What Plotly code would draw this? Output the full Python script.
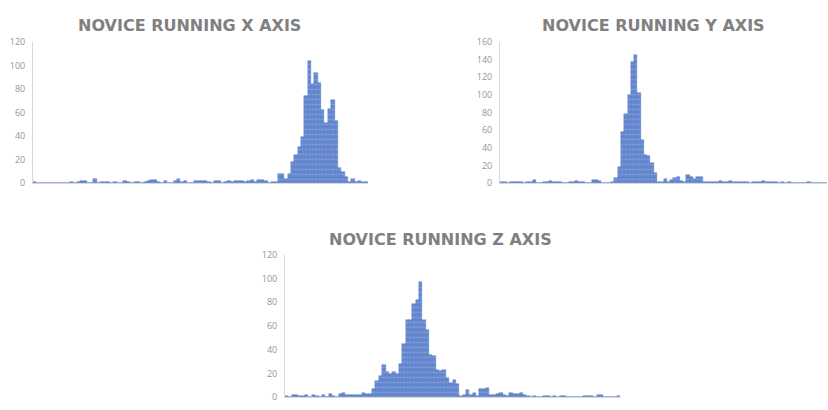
import plotly.graph_objects as go

# Histogram counts (100 bins per chart)
x_axis_counts = [1, 0, 0, 0, 0, 0, 0, 0, 0, 0,
                 0, 1, 0, 1, 2, 2, 0, 0, 4, 0,
                 1, 1, 1, 0, 1, 0, 0, 2, 1, 0,
                 1, 1, 0, 1, 2, 3, 3, 1, 0, 2,
                 0, 0, 2, 4, 1, 2, 0, 0, 2, 2,
                 2, 2, 1, 0, 2, 2, 0, 1, 2, 1,
                 2, 2, 2, 1, 2, 3, 1, 3, 3, 2,
                 0, 1, 1, 8, 8, 4, 8, 18, 24, 31,
                 39, 74, 104, 84, 94, 85, 62, 51, 63, 71,
                 53, 13, 10, 5, 1, 4, 1, 2, 1, 1]

y_axis_counts = [1, 1, 0, 1, 1, 1, 1, 0, 1, 2,
                 4, 0, 0, 2, 1, 3, 1, 2, 1, 0,
                 0, 1, 2, 3, 1, 2, 0, 0, 4, 4,
                 3, 0, 0, 0, 1, 6, 18, 58, 78, 100,
                 137, 145, 102, 49, 32, 31, 23, 12, 2, 2,
                 5, 2, 4, 6, 7, 3, 2, 10, 7, 5,
                 7, 7, 2, 1, 2, 2, 1, 3, 2, 1,
                 3, 2, 2, 2, 1, 1, 0, 2, 1, 1,
                 3, 2, 1, 1, 1, 0, 1, 0, 1, 0,
                 0, 0, 0, 0, 1, 0, 0, 0, 0, 0]

z_axis_counts = [1, 0, 2, 2, 1, 1, 2, 0, 2, 1,
                 0, 2, 0, 3, 1, 0, 3, 4, 2, 2,
                 2, 2, 2, 4, 3, 3, 7, 14, 18, 27,
                 21, 20, 21, 20, 28, 45, 65, 65, 79, 82,
                 97, 65, 57, 36, 35, 23, 22, 23, 16, 12,
                 15, 11, 1, 2, 6, 2, 4, 1, 7, 7,
                 8, 2, 2, 3, 4, 2, 1, 4, 3, 3,
                 4, 2, 1, 0, 1, 0, 0, 1, 1, 0,
                 1, 0, 1, 1, 0, 0, 0, 0, 0, 1,
                 1, 1, 0, 2, 2, 0, 0, 0, 0, 1]

titles = ["NOVICE RUNNING X AXIS", "NOVICE RUNNING Y AXIS", "NOVICE RUNNING Z AXIS"]
y_maxes = [120, 160, 120]

W, H = 828, 410
# plot areas in pixels: (x0, x1, ytop, ybottom)
areas = [(33, 368, 36, 182), (500, 827, 36, 182), (285, 620, 256, 403)]
title_pos = [(189, 19), (653, 19), (440, 240)]

BAR = "#6286cf"
STRIPE = "#9bb4e6"

fig = go.Figure()
series = [x_axis_counts, y_axis_counts, z_axis_counts]
for i, counts in enumerate(series):
    n = i + 1
    xa = "x" if n == 1 else f"x{n}"
    ya = "y" if n == 1 else f"y{n}"
    fig.add_trace(go.Bar(
        x=list(range(len(counts))), y=counts, xaxis=xa, yaxis=ya,
        marker=dict(color=BAR, line=dict(width=0.4, color="#4f72bf"),
                    pattern=dict(shape="-", fgcolor=STRIPE, bgcolor=BAR,
                                 size=5, solidity=0.3, fillmode="overlay")),
        showlegend=False, hoverinfo="skip"))

layout = dict(width=W, height=H, margin=dict(l=0, r=0, t=0, b=0),
              paper_bgcolor="white", plot_bgcolor="white", bargap=0,
              font=dict(family="Open Sans, sans-serif"))
for i, (x0, x1, yt, yb) in enumerate(areas):
    n = i + 1
    xk = "xaxis" if n == 1 else f"xaxis{n}"
    yk = "yaxis" if n == 1 else f"yaxis{n}"
    layout[xk] = dict(domain=[x0 / W, x1 / W], anchor=("y" if n == 1 else f"y{n}"),
                      range=[-0.5, len(series[i]) - 0.5], showticklabels=False,
                      showgrid=False, zeroline=False, showline=True,
                      linecolor="#d9d9d9", linewidth=1, ticks="")
    layout[yk] = dict(domain=[1 - yb / H, 1 - yt / H], anchor=("x" if n == 1 else f"x{n}"),
                      range=[0, y_maxes[i]], dtick=20, showgrid=False, zeroline=False,
                      showline=True, linecolor="#d9d9d9", linewidth=1, ticks="",
                      ticklabelstandoff=5,
                      tickfont=dict(size=9, color="#959595", family="Open Sans, sans-serif"))
fig.update_layout(**layout)

for (cx, cy), t in zip(title_pos, titles):
    fig.add_annotation(text=f"<b>{t}</b>", x=cx / W, y=1 - cy / H, xref="paper", yref="paper",
                       xanchor="center", yanchor="middle", showarrow=False,
                       font=dict(size=16, color="#808080", family="DejaVu Sans, sans-serif"))

fig.write_html("out.html")
